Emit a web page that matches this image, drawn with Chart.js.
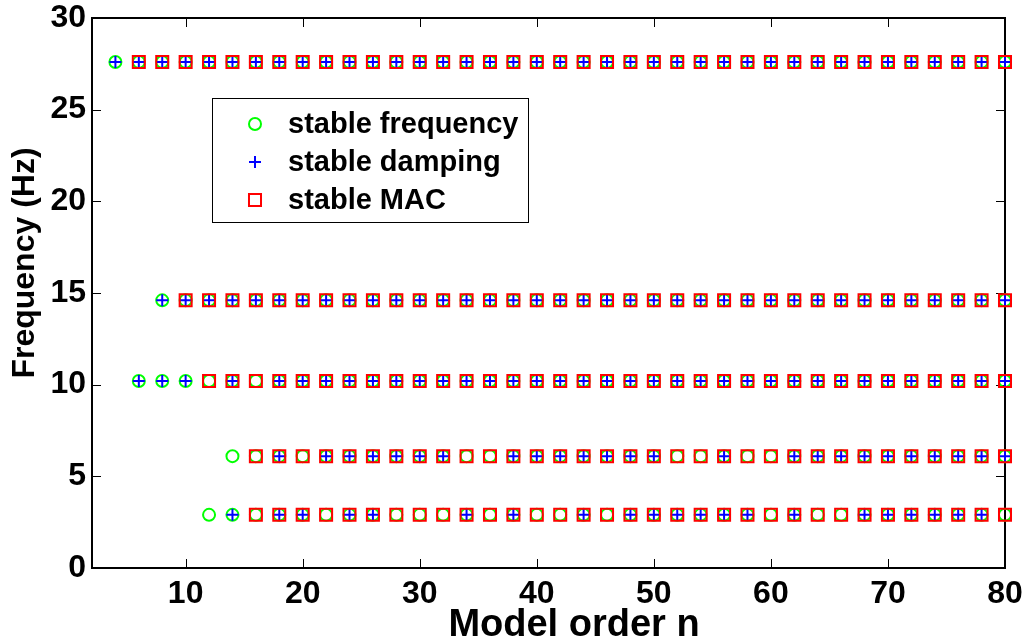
<!DOCTYPE html>
<html>
<head>
<meta charset="utf-8">
<title>Stabilization diagram</title>
<script src="https://cdn.jsdelivr.net/npm/chart.js@4.4.0/dist/chart.umd.min.js"></script>
<style>
  html, body { margin: 0; padding: 0; background: #fff; }
</style>
</head>
<body>
<canvas id="chart" width="1029" height="643"></canvas>
<script>
// Model orders used in the identification (x axis)
const modelOrders = [
  4, 6, 8, 10, 12, 14, 16, 18, 20, 22,
  24, 26, 28, 30, 32, 34, 36, 38, 40, 42,
  44, 46, 48, 50, 52, 54, 56, 58, 60, 62,
  64, 66, 68, 70, 72, 74, 76, 78, 80
];

// Identified mode frequencies (Hz)
const modeFrequencies = [27.6, 14.6, 10.2, 6.1, 2.9];

// Stability per model order: F = frequency, D = damping, M = MAC, '' = no pole
const mode1Status = [
  'FD', 'FDM', 'FDM', 'FDM', 'FDM', 'FDM', 'FDM', 'FDM', 'FDM', 'FDM',
  'FDM', 'FDM', 'FDM', 'FDM', 'FDM', 'FDM', 'FDM', 'FDM', 'FDM', 'FDM',
  'FDM', 'FDM', 'FDM', 'FDM', 'FDM', 'FDM', 'FDM', 'FDM', 'FDM', 'FDM',
  'FDM', 'FDM', 'FDM', 'FDM', 'FDM', 'FDM', 'FDM', 'FDM', 'FDM'
];
const mode2Status = [
  '', '', 'FD', 'FDM', 'FDM', 'FDM', 'FDM', 'FDM', 'FDM', 'FDM',
  'FDM', 'FDM', 'FDM', 'FDM', 'FDM', 'FDM', 'FDM', 'FDM', 'FDM', 'FDM',
  'FDM', 'FDM', 'FDM', 'FDM', 'FDM', 'FDM', 'FDM', 'FDM', 'FDM', 'FDM',
  'FDM', 'FDM', 'FDM', 'FDM', 'FDM', 'FDM', 'FDM', 'FDM', 'FDM'
];
const mode3Status = [
  '', 'FD', 'FD', 'FD', 'FM', 'FDM', 'FM', 'FDM', 'FDM', 'FDM',
  'FDM', 'FDM', 'FDM', 'FDM', 'FDM', 'FDM', 'FDM', 'FDM', 'FDM', 'FDM',
  'FDM', 'FDM', 'FDM', 'FDM', 'FDM', 'FDM', 'FDM', 'FDM', 'FDM', 'FDM',
  'FDM', 'FDM', 'FDM', 'FDM', 'FDM', 'FDM', 'FDM', 'FDM', 'FDM'
];
const mode4Status = [
  '', '', '', '', '', 'F', 'FM', 'FDM', 'FM', 'FDM',
  'FDM', 'FDM', 'FDM', 'FDM', 'FDM', 'FM', 'FM', 'FDM', 'FDM', 'FDM',
  'FDM', 'FDM', 'FDM', 'FDM', 'FM', 'FM', 'FDM', 'FM', 'FM', 'FDM',
  'FDM', 'FDM', 'FDM', 'FDM', 'FDM', 'FDM', 'FDM', 'FDM', 'FDM'
];
const mode5Status = [
  '', '', '', '', 'F', 'FD', 'FM', 'FDM', 'FDM', 'FM',
  'FDM', 'FDM', 'FM', 'FM', 'FM', 'FDM', 'FM', 'FDM', 'FM', 'FM',
  'FDM', 'FM', 'FDM', 'FDM', 'FDM', 'FDM', 'FDM', 'FDM', 'FM', 'FDM',
  'FM', 'FM', 'FDM', 'FDM', 'FDM', 'FDM', 'FDM', 'FDM', 'FM'
];

const seriesLabels = ['stable frequency', 'stable damping', 'stable MAC'];
const xTickValues = [10, 20, 30, 40, 50, 60, 70, 80];
const yTickValues = [0, 5, 10, 15, 20, 25, 30];
const xAxisTitle = 'Model order n';
const yAxisTitle = 'Frequency (Hz)';

const fontFamily = "'Liberation Sans', Arial, Helvetica, sans-serif";

// Collect points of each stability criterion
const allStatus = [mode1Status, mode2Status, mode3Status, mode4Status, mode5Status];
function collectPoints(flag) {
  const pts = [];
  allStatus.forEach((status, m) => {
    status.forEach((s, i) => {
      if (s.includes(flag)) pts.push({ x: modelOrders[i], y: modeFrequencies[m] });
    });
  });
  return pts;
}

// Inward ticks + full box, MATLAB style
const axesBoxPlugin = {
  id: 'axesBox',
  beforeDatasetsDraw(chart) {
    const { ctx, chartArea: a, scales } = chart;
    const tickLen = 9;
    ctx.save();
    ctx.strokeStyle = '#000';
    ctx.lineWidth = 1;
    ctx.beginPath();
    xTickValues.forEach(v => {
      const px = Math.round(scales.x.getPixelForValue(v)) + 0.5;
      ctx.moveTo(px, a.bottom); ctx.lineTo(px, a.bottom - tickLen);
      ctx.moveTo(px, a.top); ctx.lineTo(px, a.top + tickLen);
    });
    yTickValues.forEach(v => {
      const py = Math.round(scales.y.getPixelForValue(v)) + 0.5;
      ctx.moveTo(a.left, py); ctx.lineTo(a.left + tickLen, py);
      ctx.moveTo(a.right, py); ctx.lineTo(a.right - tickLen, py);
    });
    ctx.stroke();
    ctx.lineWidth = 2;
    ctx.strokeRect(a.left, a.top, a.right - a.left, a.bottom - a.top);
    ctx.restore();
  }
};

// Axis labels, placed where the original figure has them
const axisTitlePlugin = {
  id: 'axisTitles',
  afterDraw(chart) {
    const ctx = chart.ctx;
    ctx.save();
    ctx.fillStyle = '#000';
    ctx.textAlign = 'center';
    ctx.textBaseline = 'middle';
    ctx.font = 'bold 38px ' + fontFamily;
    ctx.fillText(xAxisTitle, 574, 626);
    ctx.translate(25, 263);
    ctx.rotate(-Math.PI / 2);
    ctx.font = 'bold 32px ' + fontFamily;
    ctx.fillText(yAxisTitle, 0, 0);
    ctx.restore();
  }
};

// Boxed legend inside the axes
const legendBoxPlugin = {
  id: 'legendBox',
  afterDraw(chart) {
    const ctx = chart.ctx;
    const box = { x: 212, y: 98, w: 316, h: 124 };
    ctx.save();
    ctx.fillStyle = '#fff';
    ctx.fillRect(box.x, box.y, box.w, box.h);
    ctx.strokeStyle = '#000';
    ctx.lineWidth = 1;
    ctx.strokeRect(box.x + 0.5, box.y + 0.5, box.w, box.h);
    ctx.font = 'bold 29px ' + fontFamily;
    ctx.textBaseline = 'middle';
    chart.data.datasets.forEach((ds, i) => {
      const mx = 255, my = box.y + 26 + i * 38;
      const r = ds.pointRadius;
      ctx.strokeStyle = ds.pointBorderColor;
      ctx.lineWidth = ds.pointBorderWidth;
      ctx.beginPath();
      if (ds.pointStyle === 'circle') {
        ctx.arc(mx, my, r, 0, Math.PI * 2);
      } else if (ds.pointStyle === 'cross') {
        ctx.moveTo(mx - r, my); ctx.lineTo(mx + r, my);
        ctx.moveTo(mx, my - r); ctx.lineTo(mx, my + r);
      } else {
        const h = r * Math.SQRT1_2;
        ctx.rect(mx - h, my - h, 2 * h, 2 * h);
      }
      ctx.stroke();
      ctx.fillStyle = '#000';
      ctx.fillText(ds.label, 288, my + 1);
    });
    ctx.restore();
  }
};

const ctx = document.getElementById('chart').getContext('2d');
new Chart(ctx, {
  type: 'scatter',
  data: {
    datasets: [
      {
        label: seriesLabels[0],
        data: collectPoints('F'),
        pointStyle: 'circle',
        pointRadius: 6,
        pointHoverRadius: 6,
        pointBorderWidth: 2,
        pointBorderColor: '#00ff00',
        pointBackgroundColor: 'rgba(0,0,0,0)',
        order: 3,
        clip: false
      },
      {
        label: seriesLabels[1],
        data: collectPoints('D'),
        pointStyle: 'cross',
        pointRadius: 6,
        pointHoverRadius: 6,
        pointBorderWidth: 2,
        pointBorderColor: '#0000ff',
        pointBackgroundColor: 'rgba(0,0,0,0)',
        order: 2,
        clip: false
      },
      {
        label: seriesLabels[2],
        data: collectPoints('M'),
        pointStyle: 'rect',
        pointRadius: 8.5,
        pointHoverRadius: 8.5,
        pointBorderWidth: 2,
        pointBorderColor: '#ff0000',
        pointBackgroundColor: 'rgba(0,0,0,0)',
        order: 1,
        clip: false
      }
    ]
  },
  options: {
    responsive: false,
    animation: false,
    events: [],
    layout: { padding: { top: 18, right: 24, left: 0, bottom: 0 } },
    plugins: {
      legend: { display: false },
      tooltip: { enabled: false }
    },
    scales: {
      x: {
        type: 'linear',
        min: 2,
        max: 80,
        afterBuildTicks: s => { s.ticks = xTickValues.map(v => ({ value: v })); },
        afterFit: s => { s.height = 75; s.paddingLeft = 0; s.paddingRight = 0; },
        grid: { display: false, drawTicks: false },
        border: { display: false },
        ticks: {
          color: '#000',
          padding: 10,
          maxRotation: 0,
          font: { family: fontFamily, size: 32, weight: 'bold', lineHeight: 1 }
        }
      },
      y: {
        min: 0,
        max: 30,
        afterBuildTicks: s => { s.ticks = yTickValues.map(v => ({ value: v })); },
        afterFit: s => { s.width = 92; s.paddingTop = 0; s.paddingBottom = 0; },
        grid: { display: false, drawTicks: false },
        border: { display: false },
        ticks: {
          color: '#000',
          padding: 6,
          font: { family: fontFamily, size: 32, weight: 'bold', lineHeight: 1 }
        }
      }
    }
  },
  plugins: [axesBoxPlugin, axisTitlePlugin, legendBoxPlugin]
});
</script>
</body>
</html>
